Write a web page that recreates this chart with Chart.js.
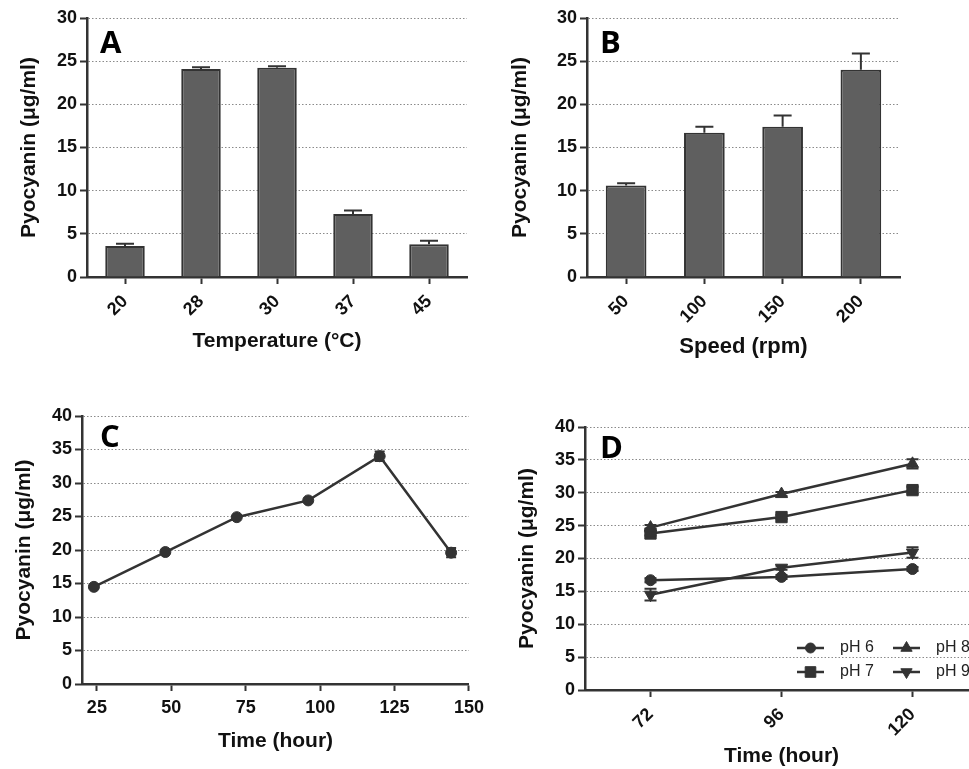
<!DOCTYPE html>
<html>
<head>
<meta charset="utf-8">
<script src="https://cdn.jsdelivr.net/npm/chart.js@4.4.0/dist/chart.umd.min.js"></script>
<style>
  html, body { margin: 0; padding: 0; background: #fff; width: 969px; height: 769px; overflow: hidden; }
  .panel { position: absolute; }
</style>
</head>
<body>
<div class="panel" style="left:0;top:0"><canvas id="chartA" width="480" height="360"></canvas></div>
<div class="panel" style="left:480px;top:0"><canvas id="chartB" width="489" height="360"></canvas></div>
<div class="panel" style="left:0;top:390px"><canvas id="chartC" width="490" height="379"></canvas></div>
<div class="panel" style="left:490px;top:390px"><canvas id="chartD" width="500" height="379"></canvas></div>
<script>
// panel A - temperature
const tempLabels = ['20', '28', '30', '37', '45'];
const tempMeans = [3.6, 24.1, 24.25, 7.3, 3.8];
const tempErrors = [0.25, 0.2, 0.15, 0.4, 0.4];

// panel B - shaking speed
const speedLabels = ['50', '100', '150', '200'];
const speedMeans = [10.6, 16.7, 17.4, 24.0];
const speedErrors = [0.25, 0.7, 1.3, 1.9];

// panel C - incubation time
const timeHours = [24, 48, 72, 96, 120, 144];
const timeMeans = [14.5, 19.7, 24.9, 27.4, 34.0, 19.6];
const timeErrors = [0, 0, 0, 0, 0.7, 0.7];
const timeTicks = [25, 50, 75, 100, 125, 150];

// panel D - pH over time
const phHours = [72, 96, 120];
const ph6Means = [16.7, 17.2, 18.4];
const ph6Errors = [0.3, 0.3, 0.3];
const ph7Means = [23.8, 26.3, 30.4];
const ph7Errors = [0.3, 0.3, 0.5];
const ph8Means = [24.7, 29.8, 34.4];
const ph8Errors = [0.4, 0.3, 0.7];
const ph9Means = [14.5, 18.6, 20.9];
const ph9Errors = [0.9, 0.3, 0.8];

const ink = '#333';
const textInk = '#111';
Chart.defaults.font.family = '"Liberation Sans", Arial, sans-serif';
Chart.defaults.color = textInk;

// error bars (mean + SD above bars, +/- SD on points)
const errorBars = {
  id: 'errorBars',
  afterDatasetsDraw(chart, args, opts) {
    const ctx = chart.ctx;
    const yScale = chart.scales.y;
    chart.data.datasets.forEach((ds, i) => {
      if (!ds.errors) return;
      const meta = chart.getDatasetMeta(i);
      meta.data.forEach((el, j) => {
        const err = ds.errors[j];
        if (!err) return;
        const raw = ds.data[j];
        const val = typeof raw === 'object' ? raw.y : raw;
        const top = yScale.getPixelForValue(val + err);
        const bottom = opts.upOnly ? el.y : yScale.getPixelForValue(val - err);
        ctx.save();
        ctx.strokeStyle = ink;
        ctx.lineWidth = 2;
        ctx.beginPath();
        ctx.moveTo(el.x, bottom);
        ctx.lineTo(el.x, top);
        ctx.moveTo(el.x - opts.cap, top);
        ctx.lineTo(el.x + opts.cap, top);
        if (!opts.upOnly) {
          ctx.moveTo(el.x - opts.cap, bottom);
          ctx.lineTo(el.x + opts.cap, bottom);
        }
        ctx.stroke();
        ctx.restore();
      });
    });
  }
};

// big panel letter in the top left corner of the plot
const panelLabel = {
  id: 'panelLabel',
  afterDraw(chart, args, opts) {
    const {ctx, chartArea} = chart;
    ctx.save();
    ctx.font = 'bold 31px "Open Sans", "Liberation Sans", sans-serif';
    ctx.fillStyle = '#000';
    ctx.textBaseline = 'alphabetic';
    ctx.fillText(opts.text, chartArea.left + opts.dx, chartArea.top + opts.dy);
    ctx.restore();
  }
};

// legend drawn inside the plot of panel D, two columns
const insideLegend = {
  id: 'insideLegend',
  afterDraw(chart, args, opts) {
    const {ctx, chartArea} = chart;
    ctx.save();
    ctx.font = '16px "Liberation Sans", Arial, sans-serif';
    ctx.textBaseline = 'middle';
    chart.data.datasets.forEach((ds, i) => {
      const x = chartArea.left + opts.columns[Math.floor(i / 2)];
      const y = chartArea.top + opts.rows[i % 2];
      ctx.strokeStyle = ink;
      ctx.fillStyle = ink;
      ctx.lineWidth = 2.5;
      ctx.beginPath();
      ctx.moveTo(x, y);
      ctx.lineTo(x + 27, y);
      ctx.stroke();
      ctx.lineWidth = 1;
      Chart.helpers.drawPoint(ctx, {
        pointStyle: ds.pointStyle, radius: ds.pointRadius - 0.5,
        rotation: ds.pointRotation || 0, borderWidth: 1
      }, x + 13.5, y);
      ctx.fillStyle = '#222';
      ctx.fillText(ds.label, x + 43, y);
    });
    ctx.restore();
  }
};

function yAxis(max, width, titlePad) {
  return {
    min: 0, max: max,
    ticks: { stepSize: 5, padding: 3, color: textInk, font: { size: 18, weight: 'bold' } },
    grid: { color: '#8a8a8a', lineWidth: 1, tickLength: 7, tickColor: ink, tickWidth: 2 },
    border: { color: ink, width: 2.5, dash: [1.5, 2] },
    title: {
      display: true, text: 'Pyocyanin (μg/ml)', color: textInk,
      font: { size: 21, weight: 'bold' }, padding: { top: titlePad, bottom: 0 }
    },
    afterFit: s => { s.width = width; }
  };
}

function xTitle(text, size, pad) {
  return { display: true, text: text, color: textInk, font: { size: size, weight: 'bold' }, padding: { top: 0, bottom: pad } };
}

function barChart(id, labels, means, errors, letter, titleText, titleSize, titlePad, pads, yWidth, xHeight, yTitlePad) {
  return new Chart(document.getElementById(id), {
    type: 'bar',
    data: {
      labels: labels,
      datasets: [{
        data: means, errors: errors,
        backgroundColor: '#5f5f5f', borderColor: ink, borderWidth: 2,
        barPercentage: 0.52, categoryPercentage: 1
      }]
    },
    options: {
      responsive: false, animation: false,
      layout: { padding: pads },
      scales: {
        x: {
          offset: true,
          ticks: { minRotation: 45, maxRotation: 45, padding: 7, color: textInk, font: { size: 18, weight: 'bold' } },
          grid: { drawOnChartArea: false, offset: false, tickLength: 7, tickColor: ink, tickWidth: 2 },
          border: { color: ink, width: 2.5 },
          title: xTitle(titleText, titleSize, titlePad),
          afterFit: s => { s.height = xHeight; }
        },
        y: yAxis(30, yWidth, yTitlePad)
      },
      plugins: {
        legend: { display: false }, tooltip: { enabled: false },
        errorBars: { upOnly: true, cap: 9 },
        panelLabel: { text: letter, dx: 13, dy: 35 }
      }
    },
    plugins: [errorBars, panelLabel]
  });
}

barChart('chartA', tempLabels, tempMeans, tempErrors, 'A', 'Temperature (°C)', 21, 6,
  { left: 0, right: 13, top: 18, bottom: 0 }, 87, 83, 17);
barChart('chartB', speedLabels, speedMeans, speedErrors, 'B', 'Speed (rpm)', 22, 0,
  { left: 0, right: 69, top: 18, bottom: 0 }, 107, 83, 28);

const lineStyle = {
  borderColor: ink, borderWidth: 2.5, backgroundColor: ink,
  pointBackgroundColor: ink, pointBorderColor: ink, pointBorderWidth: 1, tension: 0
};

new Chart(document.getElementById('chartC'), {
  type: 'line',
  data: {
    datasets: [Object.assign({
      data: timeHours.map((h, i) => ({ x: h, y: timeMeans[i] })),
      errors: timeErrors, pointStyle: 'circle', pointRadius: 5.5
    }, lineStyle)]
  },
  options: {
    responsive: false, animation: false,
    layout: { padding: { left: 0, right: 15, top: 26, bottom: 0 } },
    scales: {
      x: {
        type: 'linear', min: 20, max: 150,
        afterBuildTicks: s => { s.ticks = timeTicks.map(v => ({ value: v })); },
        ticks: { maxRotation: 0, padding: 6, color: textInk, font: { size: 18, weight: 'bold' } },
        grid: { drawOnChartArea: false, tickLength: 7, tickColor: ink, tickWidth: 2 },
        border: { color: ink, width: 2.5 },
        title: xTitle('Time (hour)', 21, 15),
        afterFit: s => { s.height = 85; }
      },
      y: yAxis(40, 82, 12)
    },
    plugins: {
      legend: { display: false }, tooltip: { enabled: false },
      errorBars: { upOnly: false, cap: 5 },
      panelLabel: { text: 'C', dx: 18, dy: 31 }
    }
  },
  plugins: [errorBars, panelLabel]
});

const phSeries = [
  { label: 'pH 6', means: ph6Means, errors: ph6Errors, style: 'circle', radius: 5.5, rot: 0 },
  { label: 'pH 7', means: ph7Means, errors: ph7Errors, style: 'rect', radius: 8, rot: 0 },
  { label: 'pH 8', means: ph8Means, errors: ph8Errors, style: 'triangle', radius: 7, rot: 0 },
  { label: 'pH 9', means: ph9Means, errors: ph9Errors, style: 'triangle', radius: 7, rot: 180 }
];

new Chart(document.getElementById('chartD'), {
  type: 'line',
  data: {
    datasets: phSeries.map(s => Object.assign({
      label: s.label,
      data: phHours.map((h, i) => ({ x: h, y: s.means[i] })),
      errors: s.errors, pointStyle: s.style, pointRadius: s.radius, pointRotation: s.rot
    }, lineStyle))
  },
  options: {
    responsive: false, animation: false,
    layout: { padding: { left: 0, right: 12, top: 37, bottom: 0 } },
    scales: {
      x: {
        type: 'linear', min: 60, max: 132,
        afterBuildTicks: s => { s.ticks = phHours.map(v => ({ value: v })); },
        ticks: { minRotation: 45, maxRotation: 45, padding: 7, color: textInk, font: { size: 18, weight: 'bold' } },
        grid: { drawOnChartArea: false, tickLength: 7, tickColor: ink, tickWidth: 2 },
        border: { color: ink, width: 2.5 },
        title: xTitle('Time (hour)', 21, 0),
        afterFit: s => { s.height = 79; }
      },
      y: yAxis(40, 95, 25)
    },
    plugins: {
      legend: { display: false }, tooltip: { enabled: false },
      errorBars: { upOnly: false, cap: 6 },
      panelLabel: { text: 'D', dx: 15, dy: 31 },
      insideLegend: { columns: [212, 308], rows: [221, 245] }
    }
  },
  plugins: [errorBars, panelLabel, insideLegend]
});
</script>
</body>
</html>
